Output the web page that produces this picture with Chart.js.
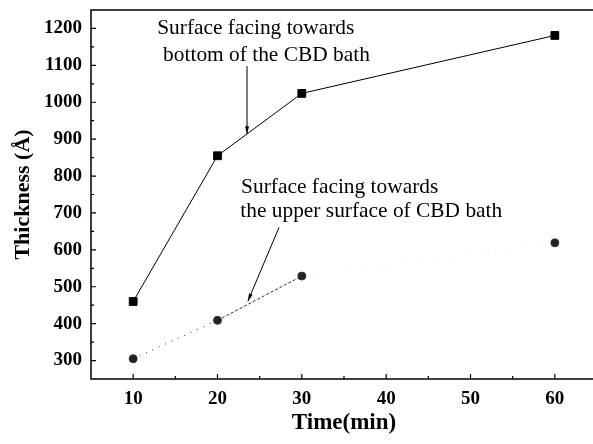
<!DOCTYPE html>
<html>
<head>
<meta charset="utf-8">
<script src="https://cdn.jsdelivr.net/npm/chart.js@4"></script>
<style>
  html, body { margin: 0; padding: 0; background: #fff; overflow: hidden; }
</style>
</head>
<body>
<canvas id="chart" width="597" height="444"></canvas>
<script>
// Data
const times = [10, 20, 30, 60];
const bottomSurface = [460, 855, 1024, 1181];
const upperSurface = [305, 409, 529, 619];
const xTicks = [10, 20, 30, 40, 50, 60];
const xMinor = [15, 25, 35, 45, 55];
const yTicks = [300, 400, 500, 600, 700, 800, 900, 1000, 1100, 1200];
const yMinor = [350, 450, 550, 650, 750, 850, 950, 1050, 1150];

// Notes (data coords: left x, baseline y)
const notes = [
  { x: 12.85, y: 1184, text: "Surface facing towards" },
  { x: 13.55, y: 1111, text: "bottom of the CBD bath" },
  { x: 22.8, y: 755, text: "Surface facing towards" },
  { x: 22.7, y: 688, text: "the upper surface of CBD bath" }
];
const arrows = [
  { x0: 23.5, y0: 1098, x1: 23.5, y1: 914 },
  { x0: 27.3, y0: 661, x1: 23.6, y1: 461 }
];

const serif = "'Liberation Serif', 'Times New Roman', serif";

const frame = {
  id: "frame",
  afterDatasetsDraw(chart) {
    const { ctx, chartArea: a, scales: { x, y } } = chart;
    ctx.save();
    ctx.strokeStyle = "#000";
    ctx.lineWidth = 1.5;
    ctx.strokeRect(a.left, a.top, a.right - a.left, a.bottom - a.top);

    // inward ticks
    ctx.lineWidth = 1.2;
    ctx.beginPath();
    xTicks.forEach(v => { const p = x.getPixelForValue(v); ctx.moveTo(p, a.bottom); ctx.lineTo(p, a.bottom - 5); });
    xMinor.forEach(v => { const p = x.getPixelForValue(v); ctx.moveTo(p, a.bottom); ctx.lineTo(p, a.bottom - 3); });
    yTicks.forEach(v => { const p = y.getPixelForValue(v); ctx.moveTo(a.left, p); ctx.lineTo(a.left + 5, p); });
    yMinor.forEach(v => { const p = y.getPixelForValue(v); ctx.moveTo(a.left, p); ctx.lineTo(a.left + 3, p); });
    ctx.stroke();

    // notes
    ctx.fillStyle = "#000";
    ctx.font = "21.4px " + serif;
    ctx.textBaseline = "alphabetic";
    ctx.textAlign = "left";
    notes.forEach(n => ctx.fillText(n.text, x.getPixelForValue(n.x), y.getPixelForValue(n.y)));

    // arrows
    ctx.lineWidth = 1;
    arrows.forEach(r => {
      const px0 = x.getPixelForValue(r.x0), py0 = y.getPixelForValue(r.y0);
      const px1 = x.getPixelForValue(r.x1), py1 = y.getPixelForValue(r.y1);
      const ang = Math.atan2(py1 - py0, px1 - px0);
      ctx.beginPath();
      ctx.moveTo(px0, py0);
      ctx.lineTo(px1, py1);
      ctx.stroke();
      ctx.beginPath();
      ctx.moveTo(px1, py1);
      ctx.lineTo(px1 - 8 * Math.cos(ang - 0.25), py1 - 8 * Math.sin(ang - 0.25));
      ctx.lineTo(px1 - 8 * Math.cos(ang + 0.25), py1 - 8 * Math.sin(ang + 0.25));
      ctx.closePath();
      ctx.fill();
    });
    ctx.restore();
  }
};

new Chart(document.getElementById("chart"), {
  type: "line",
  data: {
    datasets: [
      {
        label: "Surface facing towards bottom of the CBD bath",
        data: times.map((t, i) => ({ x: t, y: bottomSurface[i] })),
        borderColor: "#000",
        backgroundColor: "#000",
        borderWidth: 1,
        pointStyle: "rect",
        pointRadius: 5.5,
        tension: 0
      },
      {
        label: "Surface facing towards the upper surface of CBD bath",
        data: times.map((t, i) => ({ x: t, y: upperSurface[i] })),
        borderColor: "#333",
        backgroundColor: "#222",
        borderWidth: 1,
        pointStyle: "circle",
        pointRadius: 4,
        tension: 0,
        segment: {
          borderDash: ctx => ctx.p0DataIndex === 0 ? [1, 6] : ctx.p0DataIndex === 1 ? [3, 2] : [1, 14],
          borderColor: ctx => ctx.p0DataIndex === 2 ? "#e4e4e4" : "#333"
        }
      }
    ]
  },
  options: {
    responsive: false,
    animation: false,
    layout: { autoPadding: false, padding: { top: 10, right: 0, left: 0, bottom: 0 } },
    plugins: { legend: { display: false }, tooltip: { enabled: false } },
    scales: {
      x: {
        type: "linear",
        min: 5,
        max: 65,
        afterBuildTicks: s => { s.ticks = xTicks.map(v => ({ value: v })); },
        afterFit: s => { s.height = 65; s.paddingLeft = 0; s.paddingRight = 0; },
        grid: { display: false, drawTicks: false },
        border: { display: false },
        ticks: { padding: 9, color: "#000", callback: v => String(v),
                 font: { family: serif, size: 19, weight: "bold" } },
        title: { display: true, text: "Time(min)", color: "#000", padding: { top: 0, bottom: 7 },
                 font: { family: serif, size: 23, weight: "bold" } }
      },
      y: {
        type: "linear",
        min: 250,
        max: 1250,
        afterBuildTicks: s => { s.ticks = yTicks.map(v => ({ value: v })); },
        afterFit: s => { s.width = 91; s.paddingTop = 0; s.paddingBottom = 0; },
        grid: { display: false, drawTicks: false },
        border: { display: false },
        ticks: { padding: 9, color: "#000", callback: v => String(v),
                 font: { family: serif, size: 19, weight: "bold" } },
        title: { display: true, text: "Thickness (Å)", color: "#000", padding: { top: 10, bottom: 0 },
                 font: { family: serif, size: 22, weight: "bold" } }
      }
    }
  },
  plugins: [frame]
});
</script>
</body>
</html>
